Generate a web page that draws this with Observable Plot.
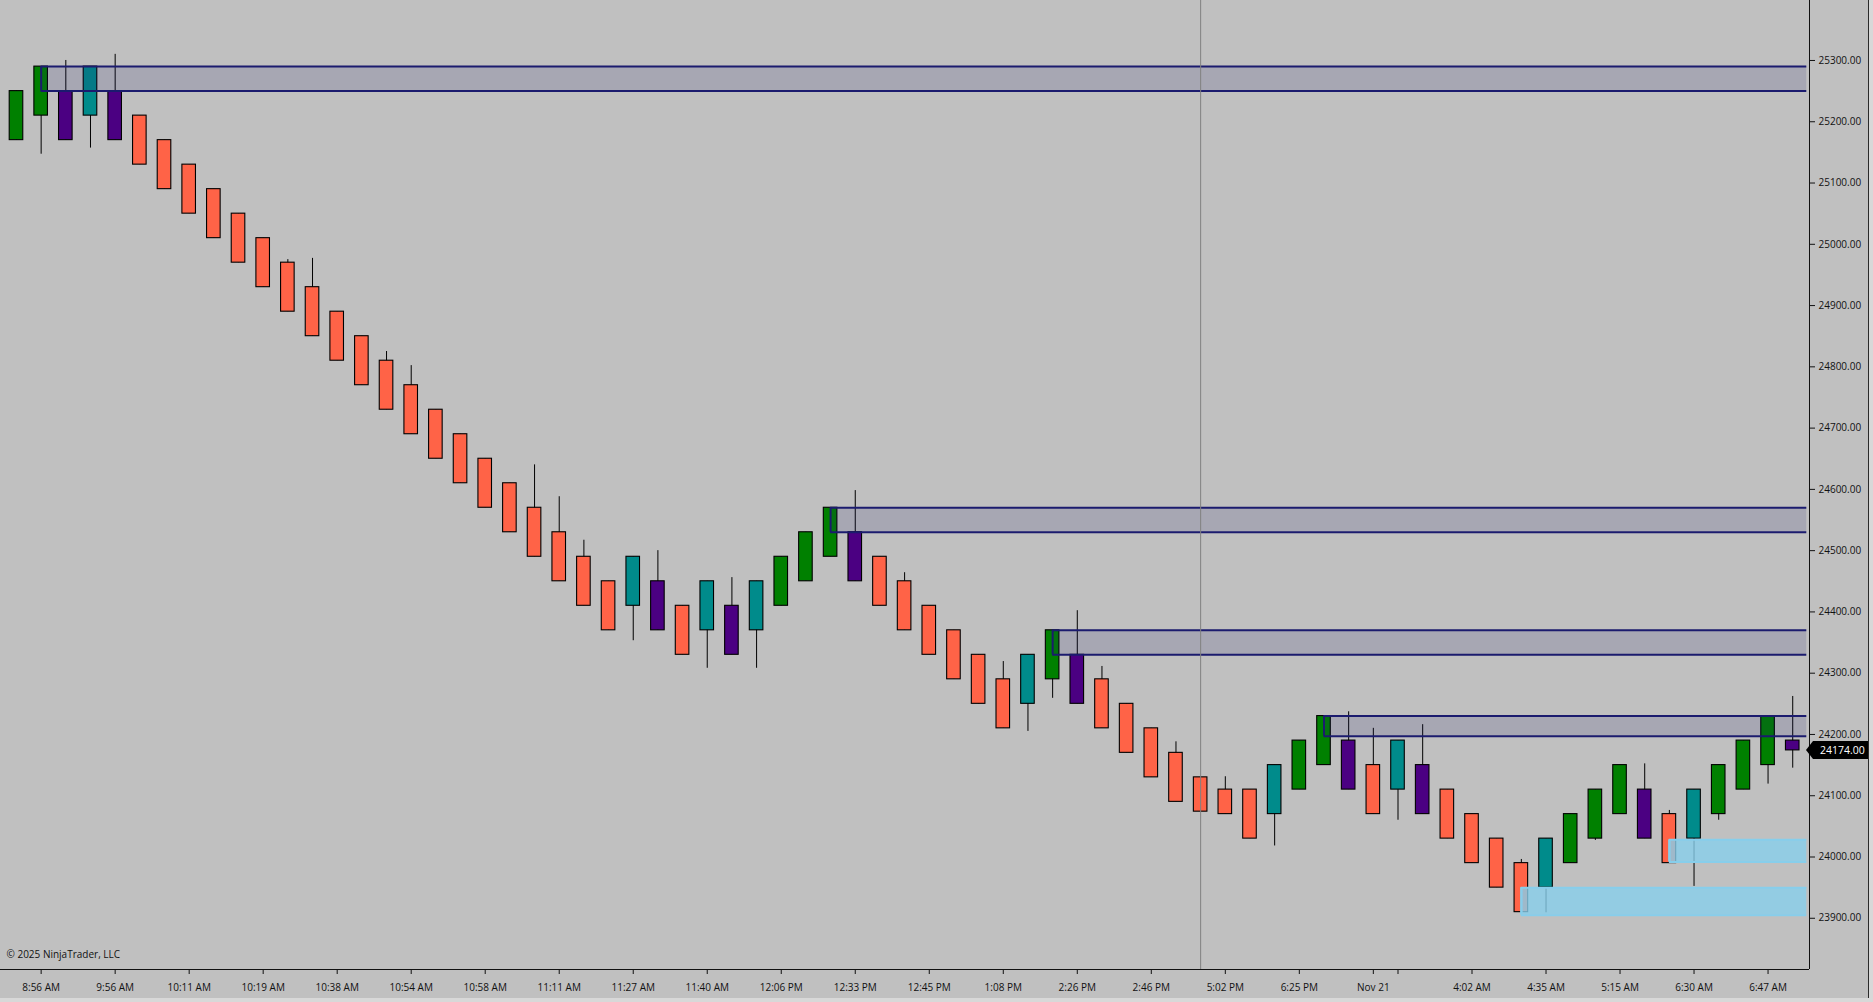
<!DOCTYPE html>
<html><head><meta charset="utf-8">
<script src="https://cdn.jsdelivr.net/npm/d3@7"></script>
<script src="https://cdn.jsdelivr.net/npm/@observablehq/plot@0.6"></script>
<style>
html,body{margin:0;padding:0;background:#d8d8d8;}
#wrap{position:relative;width:1868px;height:998px;border-right:1px solid #2a2a2a;background:#C0C0C0;overflow:hidden;}
#wrap svg{display:block;}
.price-marker{position:absolute;height:18px;background:#000;color:#fff;font-family:'Open Sans','Noto Sans',sans-serif;font-size:10.5px;line-height:18px;box-sizing:border-box;padding-left:14px;white-space:nowrap;clip-path:polygon(0 50%,7px 0,100% 0,100% 100%,7px 100%);}
</style></head><body><div id="wrap"></div>
<script>
// Renko-style bricks, one per index
const candleOpen  = [25170,25210,25250,25210,25250,25210,25170,25130,25090,25050,25010,24970,24930,24890,24850,24810,24770,24730,24690,24650,24610,24570,24530,24490,24450,24410,24450,24410,24370,24410,24370,24410,24450,24490,24530,24490,24450,24410,24370,24330,24290,24250,24290,24330,24290,24250,24210,24170,24130,24110,24110,24070,24110,24150,24190,24150,24110,24150,24110,24070,24030,23990,23950,23990,24030,24070,24110,24070,24030,24070,24110,24150,24190];
const candleClose = [25250,25290,25170,25290,25170,25130,25090,25050,25010,24970,24930,24890,24850,24810,24770,24730,24690,24650,24610,24570,24530,24490,24450,24410,24370,24490,24370,24330,24450,24330,24450,24490,24530,24570,24450,24410,24370,24330,24290,24250,24210,24330,24370,24250,24210,24170,24130,24090,24074,24070,24030,24150,24190,24230,24110,24070,24190,24070,24030,23990,23950,23910,24030,24070,24110,24150,24030,23990,24110,24150,24190,24230,24174];
const candleHigh  = [25250,25290,25300,25290,25310,25210,25170,25130,25090,25050,25010,24975,24977,24890,24850,24825,24802,24730,24690,24650,24610,24640,24588,24517,24450,24490,24500,24410,24450,24456,24450,24490,24530,24570,24598,24490,24464,24410,24370,24330,24319,24330,24370,24402,24311,24250,24210,24188,24130,24131,24110,24150,24190,24230,24237,24210,24190,24216,24110,24070,24030,23996,24030,24070,24110,24150,24152,24076,24110,24150,24190,24230,24262];
const candleLow   = [25170,25147,25170,25157,25170,25130,25090,25050,25010,24970,24930,24890,24850,24810,24770,24730,24690,24650,24610,24570,24530,24490,24450,24410,24370,24353,24370,24330,24308,24330,24308,24410,24450,24490,24450,24410,24370,24330,24290,24250,24210,24205,24259,24250,24210,24170,24130,24090,24074,24070,24030,24018,24110,24150,24110,24070,24060,24070,24030,23990,23950,23910,23909,23990,24027,24070,24030,23990,23952,24060,24110,24119,24145];
const candleType  = ["up","up","revDown","revUp","revDown","down","down","down","down","down","down","down","down","down","down","down","down","down","down","down","down","down","down","down","down","revUp","revDown","down","revUp","revDown","revUp","up","up","up","revDown","down","down","down","down","down","down","revUp","up","revDown","down","down","down","down","down","down","down","revUp","up","up","revDown","down","revUp","revDown","down","down","down","down","revUp","up","up","up","revDown","down","revUp","up","up","up","revDown"];
const typeNames  = ["up","down","revUp","revDown"];
const typeColors = ["#008000","#FF6347","#008B8B","#4B0082"];

const xTickIndex  = [1,4,7,10,13,16,19,22,25,28,31,34,37,40,43,46,49,52,55,56,59,62,65,68,71];
const xTickLabels = ["8:56 AM","9:56 AM","10:11 AM","10:19 AM","10:38 AM","10:54 AM","10:58 AM","11:11 AM","11:27 AM","11:40 AM","12:06 PM","12:33 PM","12:45 PM","1:08 PM","2:26 PM","2:46 PM","5:02 PM","6:25 PM","Nov 21","","4:02 AM","4:35 AM","5:15 AM","6:30 AM","6:47 AM"];
const yTicks = [23900,24000,24100,24200,24300,24400,24500,24600,24700,24800,24900,25000,25100,25200,25300];

// supply zones (dark) and demand zones (light blue)
const zoneStart = [1,33,42,53];
const zoneLow   = [25250,24530,24330,24197];
const zoneHigh  = [25290,24570,24370,24230];
const demandStart = [61,67];
const demandLow   = [23905,23992];
const demandHigh  = [23950,24028];
const sessionBreak = [48];
const lastPrice = 24174;
const copyright = "© 2025 NinjaTrader, LLC";

const xDomain = [-0.648, 72.68];
const yDomain = [23816.4, 25397.9];

const bars = candleOpen.map((o, i) => ({i, open: o, close: candleClose[i], high: candleHigh[i], low: candleLow[i], type: candleType[i]}));
const zones = zoneStart.map((s, k) => ({s, lo: zoneLow[k], hi: zoneHigh[k]}));
const demand = demandStart.map((s, k) => ({s, lo: demandLow[k], hi: demandHigh[k]}));
const rightEnd = xDomain[1] - 0.11;
const navy = "#1B1B6E";

const chart = Plot.plot({
  width: 1868, height: 998,
  marginLeft: 0, marginTop: 0, marginRight: 59, marginBottom: 29,
  style: {background: "#C0C0C0", fontFamily: "'Open Sans', 'Noto Sans', sans-serif", fontSize: "10px", color: "#111"},
  x: {type: "linear", domain: xDomain, ticks: xTickIndex, tickFormat: v => xTickLabels[xTickIndex.indexOf(v)] ?? "", tickSize: 5, tickPadding: 9, label: null},
  y: {domain: yDomain, axis: "right", ticks: yTicks, tickFormat: d3.format(".2f"), tickSize: 5, tickPadding: 4, label: null},
  color: {type: "ordinal", domain: typeNames, range: typeColors},
  marks: [
    Plot.ruleX(bars, {x: "i", y1: "low", y2: "high", stroke: "#000", strokeWidth: 1}),
    Plot.rect(bars, {x1: d => d.i - 0.275, x2: d => d.i + 0.275, y1: "open", y2: "close", fill: "type", stroke: "#000", strokeWidth: 1.1}),
    // supply zones: fill, then top / bottom / left edges (open on the right)
    Plot.rect(zones, {x1: "s", x2: () => rightEnd, y1: "lo", y2: "hi", fill: navy, fillOpacity: 0.15}),
    Plot.ruleY(zones, {y: "hi", x1: "s", x2: () => rightEnd, stroke: navy, strokeWidth: 2}),
    Plot.ruleY(zones, {y: "lo", x1: "s", x2: () => rightEnd, stroke: navy, strokeWidth: 2}),
    Plot.ruleX(zones, {x: "s", y1: "lo", y2: "hi", stroke: navy, strokeWidth: 2}),
    // demand zones
    Plot.rect(demand, {x1: "s", x2: () => rightEnd, y1: "lo", y2: "hi", fill: "#87CEEB", fillOpacity: 0.8}),
    Plot.ruleY(demand, {y: "hi", x1: "s", x2: () => rightEnd, stroke: "#87CEEB", strokeWidth: 2}),
    Plot.ruleY(demand, {y: "lo", x1: "s", x2: () => rightEnd, stroke: "#87CEEB", strokeWidth: 2}),
    Plot.ruleX(demand, {x: "s", y1: "lo", y2: "hi", stroke: "#87CEEB", strokeWidth: 2.5}),
    Plot.ruleX(sessionBreak, {stroke: "#808080", strokeWidth: 1}),
    Plot.ruleX([xDomain[1]], {stroke: "#111", strokeWidth: 1}),
    Plot.ruleY([yDomain[0]], {stroke: "#111", strokeWidth: 1}),
    Plot.text([copyright], {frameAnchor: "bottom-left", textAnchor: "start", lineAnchor: "bottom", dx: 6, dy: -12, fill: "#111", fontSize: 10})
  ]
});
const wrap = document.getElementById("wrap");
wrap.appendChild(chart);

// last price marker on the price axis, positioned via the plot's own scales
const yy = chart.scale("y").apply(lastPrice);
const xr = chart.scale("x").apply(xDomain[1]);
const marker = document.createElement("div");
marker.className = "price-marker";
marker.style.left = (xr - 3) + "px";
marker.style.top = (yy - 9) + "px";
marker.style.width = (1868 - (xr - 3)) + "px";
marker.textContent = d3.format(".2f")(lastPrice);
wrap.appendChild(marker);
</script>
</body></html>
